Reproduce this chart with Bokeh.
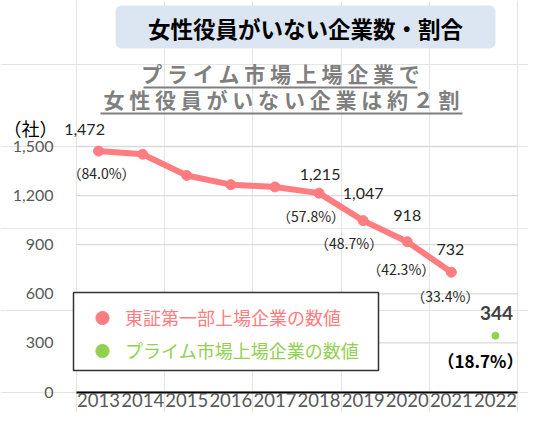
from bokeh.plotting import figure
from bokeh.models import (ColumnDataSource, Range1d, FixedTicker, NumeralTickFormatter, LinearAxis,
                          Label, LabelSet, BoxAnnotation, Legend, LegendItem)
from bokeh.core.properties import value
from bokeh.embed import file_html
from bokeh.resources import INLINE

# ---------------- data ----------------
years = ["2013", "2014", "2015", "2016", "2017", "2018", "2019", "2020", "2021", "2022"]
tse_years = ["2013", "2014", "2015", "2016", "2017", "2018", "2019", "2020", "2021"]
tse_counts = [1472, 1453, 1323, 1267, 1253, 1215, 1047, 918, 732]
tse_ratio = [84.0, None, None, None, None, 57.8, 48.7, 42.3, 33.4]
prime_years = ["2022"]
prime_counts = [344]
prime_ratio = [18.7]
y_ticks = [0, 300, 600, 900, 1200, 1500]

title_text = "女性役員がいない企業数・割合"
subtitle_1 = "プライム市場上場企業で"
subtitle_2 = "女性役員がいない企業は約２割"
unit_text = "（社）"
legend_tse = "東証第一部上場企業の数値"
legend_prime = "プライム市場上場企業の数値"

# ---------------- layout / style ----------------
RED = "#ff7c80"
GREEN = "#92d050"
GRAY_TXT = "#595959"
JP = "Noto Sans CJK JP"
NUM = "Lato"

W, H = 528, 412
PLOT_L, PLOT_R = 76, 517          # canvas px of category area
Y0_PX, Y1500_PX = 391.5, 146.0    # canvas px of y=0 and y=1500
n = len(years)
ppu_x = (PLOT_R - PLOT_L) / n
upp_y = 1500 / (Y0_PX - Y1500_PX)
x_rng = Range1d(-PLOT_L / ppu_x, n + (W - PLOT_R) / ppu_x)
y_rng = Range1d(-(H - Y0_PX) * upp_y, 1500 + Y1500_PX * upp_y)

p = figure(width=W, height=H, x_range=x_rng, y_range=y_rng, output_backend="svg",
           toolbar_location=None, x_axis_location=None, y_axis_location=None,
           min_border=0, min_border_left=0, min_border_right=0, min_border_top=0, min_border_bottom=0)
p.outline_line_color = None
p.background_fill_color = "white"

xpos = {yr: i + 0.5 for i, yr in enumerate(years)}

# horizontal grid lines, limited to the category area
p.segment(x0=[0] * len(y_ticks), x1=[n] * len(y_ticks), y0=y_ticks, y1=y_ticks,
          line_color="#d9d9d9", line_width=1.3)

# axes (drawn inside the full-canvas frame)
yaxis = LinearAxis(fixed_location=0, ticker=FixedTicker(ticks=y_ticks),
                   formatter=NumeralTickFormatter(format="0,0"),
                   axis_line_color=None, major_tick_line_color=None, minor_tick_line_color=None,
                   major_tick_out=0, major_tick_in=0, major_label_standoff=23,
                   major_label_text_font=NUM, major_label_text_font_size="16px",
                   major_label_text_color=GRAY_TXT)
p.add_layout(yaxis, "left")
xaxis = LinearAxis(fixed_location=0, bounds=(0, n),
                   ticker=FixedTicker(ticks=[xpos[y] for y in years]),
                   major_label_overrides={xpos[y]: y for y in years},
                   axis_line_color="black", axis_line_width=2,
                   major_tick_line_color=None, minor_tick_line_color=None,
                   major_tick_out=0, major_tick_in=0, major_label_standoff=1,
                   major_label_text_font=NUM, major_label_text_font_size="18.5px",
                   major_label_text_color=GRAY_TXT)
p.add_layout(xaxis, "below")

# ---------------- header (screen units, frame == canvas) ----------------
def sy(cy):
    return H - cy

def box(l, r, t, b, **kw):
    return BoxAnnotation(left=l, right=r, top=sy(t), bottom=sy(b),
                         left_units="screen", right_units="screen",
                         top_units="screen", bottom_units="screen", **kw)

p.add_layout(box(115, 495, 5, 48, fill_color="#dce6f2", fill_alpha=1, line_color=None, border_radius=6))
p.add_layout(Label(x=305, y=sy(27), x_units="screen", y_units="screen", text=title_text,
                   text_font=JP, text_font_style="bold", text_font_size="22.5px",
                   text_color="black", text_align="center", text_baseline="middle"))

sp = " "
p.add_layout(Label(x=280, y=sy(72), x_units="screen", y_units="screen",
                   text=sp.join(subtitle_1), text_font=JP, text_font_style="bold",
                   text_font_size="21px", text_color="#7f7f7f",
                   text_align="center", text_baseline="middle"))
p.add_layout(Label(x=281, y=sy(98), x_units="screen", y_units="screen",
                   text=sp.join(subtitle_2), text_font=JP, text_font_style="bold",
                   text_font_size="21px", text_color="#7f7f7f",
                   text_align="center", text_baseline="middle"))
for (l, r, t, b) in [(143, 417, 86, 88), (100, 462, 112, 114)]:
    p.add_layout(box(l, r, t, b, fill_color="#7f7f7f", fill_alpha=1, line_color=None))

p.add_layout(Label(x=3, y=sy(127), x_units="screen", y_units="screen", text=unit_text,
                   text_font=JP, text_font_size="18px", text_color="black",
                   text_align="left", text_baseline="middle"))

# ---------------- series ----------------
src_tse = ColumnDataSource(dict(x=[xpos[y] for y in tse_years], y=tse_counts))
p.line("x", "y", source=src_tse, line_color=RED, line_width=6, line_join="round")
r_tse = p.scatter("x", "y", source=src_tse, size=10, fill_color=RED, line_color=RED)

src_prime = ColumnDataSource(dict(x=[xpos[y] for y in prime_years], y=prime_counts))
r_prime = p.scatter("x", "y", source=src_prime, size=7, fill_color=GREEN, line_color=GREEN)

# labels (only years with a ratio)
lx, ly, lv, lp = [], [], [], []
for yr, c, r in zip(tse_years, tse_counts, tse_ratio):
    if r is not None:
        lx.append(xpos[yr]); ly.append(c); lv.append(f"{c:,}"); lp.append(f"（{r:.1f}%）")
val_dx = [-14, 1, 0, 0, -1]
val_dy = [22, 19, 27, 26, 23]
pct_dx = [3, -8, -14, -6, -6]
pct_dy = [-22, -23, -22, -27, -24]
src_lab = ColumnDataSource(dict(x=lx, y=ly, v=lv, pc=lp, vdx=val_dx, vdy=val_dy, pdx=pct_dx, pdy=pct_dy))
p.add_layout(LabelSet(x="x", y="y", text="v", source=src_lab, x_offset="vdx", y_offset="vdy",
                      text_font=value(NUM), text_font_size="16px", text_color="#262626",
                      text_align="center", text_baseline="middle"))
p.add_layout(LabelSet(x="x", y="y", text="pc", source=src_lab, x_offset="pdx", y_offset="pdy",
                      text_font=value(JP), text_font_size="14px", text_color="#262626",
                      text_align="center", text_baseline="middle"))

src_plab = ColumnDataSource(dict(x=[xpos[y] for y in prime_years], y=prime_counts,
                                 v=[f"{c:,}" for c in prime_counts],
                                 pc=[f"（{r:.1f}%）" for r in prime_ratio]))
p.add_layout(LabelSet(x="x", y="y", text="v", source=src_plab, x_offset=1, y_offset=23,
                      text_font=value(NUM), text_font_style="bold", text_font_size="19px",
                      text_color="#404040", text_align="center", text_baseline="middle"))
p.add_layout(LabelSet(x="x", y="y", text="pc", source=src_plab, x_offset=-15, y_offset=-25,
                      text_font=value(JP), text_font_style="bold", text_font_size="17px",
                      text_color="black", text_align="center", text_baseline="middle"))

# ---------------- legend ----------------
p.add_layout(box(73, 378, 292, 370, fill_color="white", fill_alpha=1,
                 line_color="#333333", line_alpha=1, line_width=1.5))
common = dict(padding=0, spacing=0, margin=0, glyph_width=44, glyph_height=33, label_height=33,
              label_width=240, label_standoff=1, border_line_color=None, background_fill_alpha=0,
              label_text_font=JP, label_text_font_size="18px")
leg1 = Legend(items=[LegendItem(label=legend_tse, renderers=[r_tse])],
              location=(80, sy(333.5)), label_text_color=RED, **common)
leg2 = Legend(items=[LegendItem(label=legend_prime, renderers=[r_prime])],
              location=(80, sy(366.5)), label_text_color=GREEN, **common)
p.add_layout(leg1)
p.add_layout(leg2)

open("out.html", "w").write(file_html(p, INLINE))
